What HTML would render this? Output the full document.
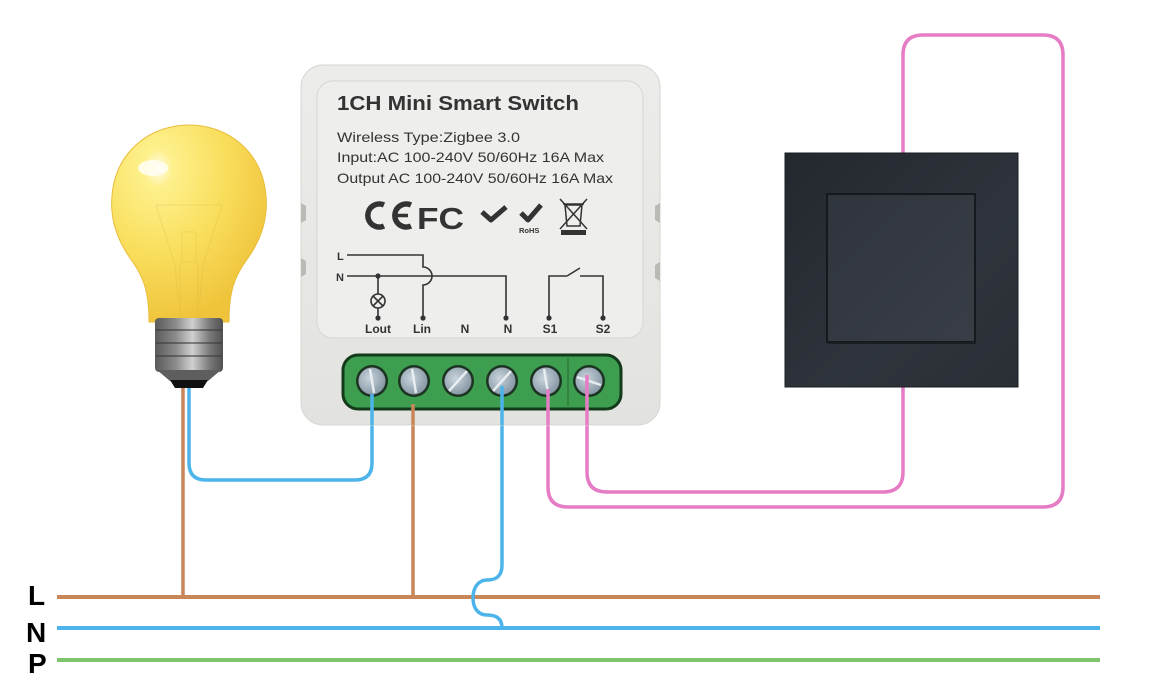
<!DOCTYPE html>
<html><head><meta charset="utf-8"><style>
html,body{margin:0;padding:0;background:#fff;}
svg{display:block;}
</style></head><body>
<svg width="1170" height="700" viewBox="0 0 1170 700" xmlns="http://www.w3.org/2000/svg">
<defs>
<radialGradient id="bulbG" cx="0.3" cy="0.22" r="0.8">
<stop offset="0" stop-color="#fffbe8"/>
<stop offset="0.12" stop-color="#fdf08c"/>
<stop offset="0.55" stop-color="#f9de5c"/>
<stop offset="1" stop-color="#efc33a"/>
</radialGradient>
<linearGradient id="baseG" x1="0" x2="1" y1="0" y2="0">
<stop offset="0" stop-color="#5a5a5a"/>
<stop offset="0.3" stop-color="#8a8a8a"/>
<stop offset="0.55" stop-color="#d0d0d0"/>
<stop offset="0.8" stop-color="#7a7a7a"/>
<stop offset="1" stop-color="#505050"/>
</linearGradient>
<linearGradient id="modG" x1="0" x2="0" y1="0" y2="1">
<stop offset="0" stop-color="#ececea"/>
<stop offset="1" stop-color="#e2e2df"/>
</linearGradient>
<linearGradient id="swOut" x1="0" x2="1" y1="0" y2="1">
<stop offset="0" stop-color="#23272e"/>
<stop offset="0.6" stop-color="#2f343c"/>
<stop offset="1" stop-color="#2a2e35"/>
</linearGradient>
<linearGradient id="swIn" x1="0" x2="1" y1="0" y2="1">
<stop offset="0" stop-color="#30353d"/>
<stop offset="1" stop-color="#383d46"/>
</linearGradient>
<radialGradient id="screwG" cx="0.4" cy="0.4" r="0.7">
<stop offset="0" stop-color="#c8d4dc"/>
<stop offset="1" stop-color="#7f909e"/>
</radialGradient>
</defs>

<!-- Bus lines -->
<line x1="57" y1="597" x2="1100" y2="597" stroke="#c98659" stroke-width="4"/>
<line x1="57" y1="628" x2="1100" y2="628" stroke="#4cb4ea" stroke-width="4"/>
<line x1="57" y1="660" x2="1100" y2="660" stroke="#7dc46c" stroke-width="4"/>
<text x="28" y="605" font-family="Liberation Sans, sans-serif" font-weight="bold" font-size="28" fill="#000">L</text>
<text x="26" y="642" font-family="Liberation Sans, sans-serif" font-weight="bold" font-size="28" fill="#000">N</text>
<text x="28" y="673" font-family="Liberation Sans, sans-serif" font-weight="bold" font-size="28" fill="#000">P</text>

<!-- Wires -->
<path d="M183 385 L183 597" stroke="#c98659" stroke-width="3.5" fill="none"/>
<path d="M413 400 L413 597" stroke="#c98659" stroke-width="3.5" fill="none"/>
<path d="M372 400 L372 463 Q372 480 355 480 L206 480 Q189 480 189 463 L189 385" stroke="#4cb4ea" stroke-width="3.5" fill="none"/>
<path d="M502 385 L502 565 C502 578 494 580 487 580 C478 580 473 588 473 598 C473 608 478 615 487 615 C494 615 502 617 502 628" stroke="#4cb4ea" stroke-width="3.5" fill="none"/>
<path d="M548 385 L548 487 Q548 507 568 507 L1043 507 Q1063 507 1063 487 L1063 55 Q1063 35 1043 35 L923 35 Q903 35 903 55 L903 160" stroke="#e67cc5" stroke-width="3.5" fill="none"/>
<path d="M587 375 L587 472 Q587 492 607 492 L883 492 Q903 492 903 472 L903 380" stroke="#e67cc5" stroke-width="3.5" fill="none"/>

<!-- Bulb -->
<g>
<path d="M149 322 C149 292 144 277 130 258 C116 238 110 218 112 196 C115 152 150 125 189 125 C228 125 263 152 266 196 C268 218 262 238 248 258 C234 277 229 292 229 322 Z" fill="url(#bulbG)" stroke="#e8bd3a" stroke-width="1"/>
<g stroke="#c9a840" stroke-width="1" fill="none" opacity="0.22">
<path d="M156 205 L175 265 L178 300"/>
<path d="M222 205 L203 265 L200 300"/>
<path d="M156 205 L222 205"/>
<path d="M182 232 L196 232 L196 262 L182 262 Z"/>
<path d="M180 262 L180 318 M198 262 L198 318"/>
</g>
<ellipse cx="153" cy="168" rx="15" ry="8" fill="#fffef5" opacity="0.85"/>
<rect x="155" y="318" width="68" height="54" rx="4" fill="url(#baseG)"/>
<g stroke="#3a3a3a" stroke-width="2" opacity="0.55">
<line x1="156" y1="330" x2="222" y2="330"/>
<line x1="156" y1="343" x2="222" y2="343"/>
<line x1="156" y1="356" x2="222" y2="356"/>
</g>
<path d="M157 370 L221 370 L208 381 L170 381 Z" fill="#5e5e5e"/>
<path d="M170 380 L208 380 L203 388 L175 388 Z" fill="#111"/>
</g>

<!-- Module -->
<rect x="301" y="65" width="359" height="360" rx="22" fill="url(#modG)" stroke="#d6d6d3" stroke-width="1"/>
<path d="M301 203 L306 206 L306 220 L301 223 Z" fill="#b9b9b6"/>
<path d="M301 258 L306 261 L306 274 L301 277 Z" fill="#b9b9b6"/>
<path d="M660 203 L655 206 L655 220 L660 223 Z" fill="#b9b9b6"/>
<path d="M660 262 L655 265 L655 278 L660 281 Z" fill="#b9b9b6"/>
<rect x="317" y="81" width="326" height="257" rx="16" fill="#eeeeec" stroke="#d9d9d6" stroke-width="1.2"/>

<g font-family="Liberation Sans, sans-serif" fill="#333">
<text x="337" y="110" font-weight="bold" font-size="20.5" textLength="242" lengthAdjust="spacingAndGlyphs">1CH Mini Smart Switch</text>
<text x="337" y="142" font-size="14" textLength="183" lengthAdjust="spacingAndGlyphs">Wireless Type:Zigbee 3.0</text>
<text x="337" y="162" font-size="14" textLength="267" lengthAdjust="spacingAndGlyphs">Input:AC 100-240V 50/60Hz 16A Max</text>
<text x="337" y="183" font-size="14" textLength="276" lengthAdjust="spacingAndGlyphs">Output AC 100-240V 50/60Hz 16A Max</text>
</g>

<!-- cert icons -->
<g fill="none" stroke="#333" stroke-width="5.5">
<path d="M384 205 A11.5 11.5 0 1 0 384 226"/>
<path d="M411 205 A11.5 11.5 0 1 0 411 226"/>
</g>
<line x1="396" y1="215.5" x2="408" y2="215.5" stroke="#333" stroke-width="3.5"/>
<text x="417" y="229" font-family="Liberation Sans, sans-serif" font-weight="bold" font-size="31" fill="#333" textLength="47" lengthAdjust="spacingAndGlyphs">FC</text>
<path d="M482 212 L491 220 L506 207" fill="none" stroke="#333" stroke-width="5" stroke-linejoin="round"/>
<path d="M521 213 L528 220 L541 205" fill="none" stroke="#333" stroke-width="5" stroke-linejoin="round"/>
<text x="519" y="233" font-family="Liberation Sans, sans-serif" font-weight="bold" font-size="7.5" fill="#333">RoHS</text>
<g stroke="#333" stroke-width="1.5" fill="none">
<path d="M565 205 L567 226 L580 226 L582 205 Z"/>
<line x1="563" y1="204" x2="584" y2="204"/>
<line x1="560" y1="199" x2="587" y2="229"/>
<line x1="587" y1="199" x2="560" y2="229"/>
</g>
<rect x="561" y="230" width="25" height="5" fill="#333"/>

<!-- schematic -->
<g stroke="#333" stroke-width="1.6" fill="none">
<path d="M347 255 L423 255 L423 267 A8.5 8.5 0 0 1 423 285 L423 317"/>
<path d="M347 276 L506 276 L506 317"/>
<path d="M378 276 L378 294 M378 308 L378 317"/>
<circle cx="378" cy="301" r="7"/>
<path d="M373 296 L383 306 M383 296 L373 306"/>
<path d="M549 317 L549 276 L567 276 M567 276 L580 268"/>
<path d="M580 276 L603 276 L603 317"/>
</g>
<g fill="#333">
<circle cx="378" cy="276" r="2.6"/>
<circle cx="378" cy="318" r="2.6"/>
<circle cx="423" cy="318" r="2.6"/>
<circle cx="506" cy="318" r="2.6"/>
<circle cx="549" cy="318" r="2.6"/>
<circle cx="603" cy="318" r="2.6"/>
</g>
<g font-family="Liberation Sans, sans-serif" font-weight="bold" font-size="11" fill="#333">
<text x="337" y="260">L</text>
<text x="336" y="281">N</text>
</g>
<g font-family="Liberation Sans, sans-serif" font-weight="bold" font-size="12" fill="#333" text-anchor="middle">
<text x="378" y="333">Lout</text>
<text x="422" y="333">Lin</text>
<text x="465" y="333">N</text>
<text x="508" y="333">N</text>
<text x="550" y="333">S1</text>
<text x="603" y="333">S2</text>
</g>

<!-- terminal block -->
<rect x="343" y="355" width="278" height="54" rx="15" fill="#3d9e4f" stroke="#143a1c" stroke-width="3"/>
<line x1="568" y1="358" x2="568" y2="406" stroke="#2a7038" stroke-width="1.2"/>
<g>
<circle cx="372" cy="381" r="16" fill="#1c3322"/>
<circle cx="372" cy="381" r="13.5" fill="url(#screwG)"/>
<circle cx="414" cy="381" r="16" fill="#1c3322"/>
<circle cx="414" cy="381" r="13.5" fill="url(#screwG)"/>
<circle cx="458" cy="381" r="16" fill="#1c3322"/>
<circle cx="458" cy="381" r="13.5" fill="url(#screwG)"/>
<circle cx="502" cy="381" r="16" fill="#1c3322"/>
<circle cx="502" cy="381" r="13.5" fill="url(#screwG)"/>
<circle cx="546" cy="381" r="16" fill="#1c3322"/>
<circle cx="546" cy="381" r="13.5" fill="url(#screwG)"/>
<circle cx="589" cy="381" r="16" fill="#1c3322"/>
<circle cx="589" cy="381" r="13.5" fill="url(#screwG)"/>
</g>
<g stroke="#eef3f6" stroke-width="2.5" opacity="0.9">
<line x1="370" y1="369" x2="374" y2="393"/>
<line x1="412" y1="369" x2="416" y2="393"/>
<line x1="449" y1="391" x2="467" y2="371"/>
<line x1="493" y1="391" x2="511" y2="371"/>
<line x1="544" y1="369" x2="548" y2="393"/>
<line x1="577" y1="377" x2="601" y2="385"/>
</g>
<!-- wire ends into terminals -->
<line x1="372" y1="394" x2="372" y2="425" stroke="#4cb4ea" stroke-width="3.5"/>
<line x1="413" y1="404" x2="413" y2="425" stroke="#c98659" stroke-width="3.5"/>
<line x1="502" y1="386" x2="502" y2="425" stroke="#4cb4ea" stroke-width="3.5"/>
<line x1="548" y1="389" x2="548" y2="425" stroke="#e67cc5" stroke-width="3.5"/>
<line x1="587" y1="375" x2="587" y2="425" stroke="#e67cc5" stroke-width="3.5"/>

<!-- wall switch -->
<rect x="785" y="153" width="233" height="234" fill="url(#swOut)" stroke="#1a1d22" stroke-width="1"/>
<rect x="827" y="194" width="148" height="148" fill="url(#swIn)" stroke="#15181c" stroke-width="2"/>
<line x1="828" y1="343" x2="976" y2="343" stroke="#1a1d22" stroke-width="2"/>
</svg>
</body></html>
